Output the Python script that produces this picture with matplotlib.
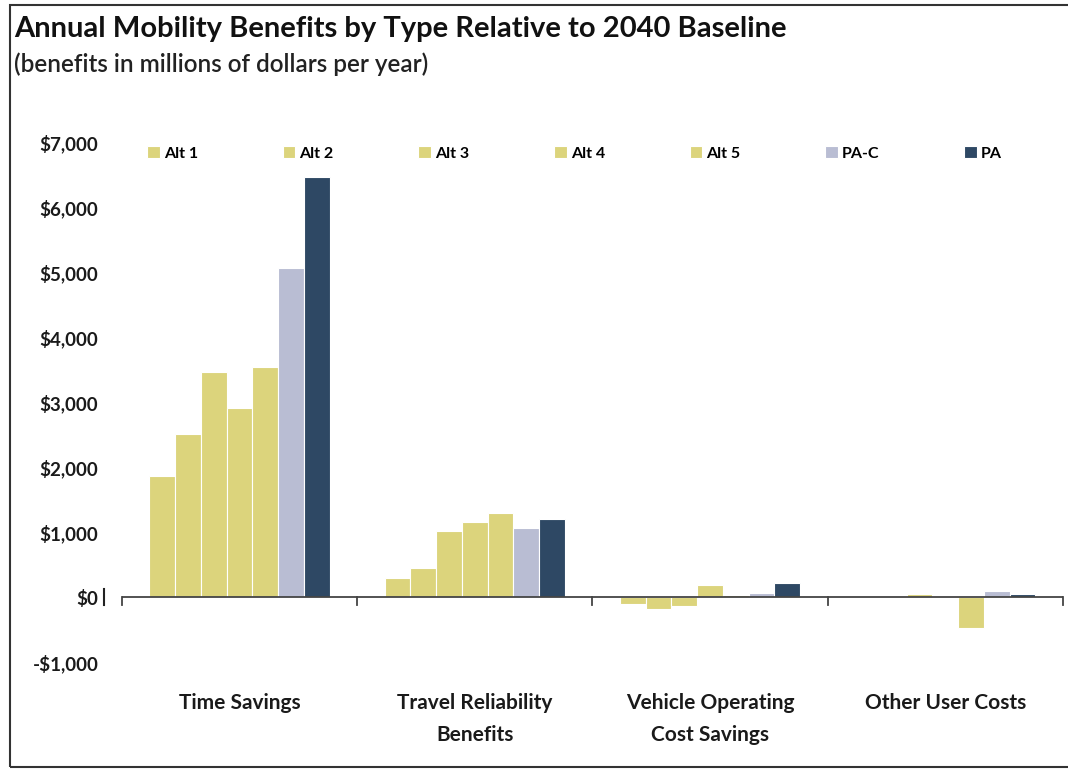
import numpy as np
import matplotlib.pyplot as plt

categories = ['Time Savings', 'Travel Reliability\nBenefits',
              'Vehicle Operating\nCost Savings', 'Other User Costs']
series = ['Alt 1', 'Alt 2', 'Alt 3', 'Alt 4', 'Alt 5', 'PA-C', 'PA']
alt1 = [1860, 300, -100, 10]
alt2 = [2510, 450, -180, 20]
alt3 = [3460, 1020, -130, 50]
alt4 = [2910, 1150, 180, 0]
alt5 = [3540, 1300, 30, -480]
pa_c = [5060, 1070, 60, 100]
pa = [6460, 1210, 220, 50]
values = [alt1, alt2, alt3, alt4, alt5, pa_c, pa]
colors = ['#DCD47C', '#DCD47C', '#DCD47C', '#DCD47C', '#DCD47C', '#B9BDD3', '#2E4864']
yticks = np.arange(-1000, 7001, 1000)

plt.rcParams['font.family'] = ['Lato', 'DejaVu Sans']

fig = plt.figure(figsize=(10.68, 7.69), dpi=100)
ax = fig.add_axes([0.1142, 0.139, 0.881, 0.676])

x = np.arange(len(categories))
w = 0.766 / len(series)
for i, (name, vals) in enumerate(zip(series, values)):
    ax.bar(x - 0.383 + w * (i + 0.5), vals, w, color=colors[i],
           edgecolor='white', linewidth=0.8, label=name, zorder=2)

ax.set_xlim(-0.5, len(categories) - 0.5)
ax.set_ylim(-1000, 7000)
ax.set_yticks(yticks)
ax.set_yticklabels(['-$1,000' if v < 0 else f'${v:,}' for v in yticks],
                   fontsize=13.5, fontweight='bold', color='#1a1a1a')
ax.tick_params(axis='y', length=0, pad=17)
for s in ax.spines.values():
    s.set_visible(False)
ax.set_xticks([])

# zero line with category dividers
ax.axhline(0, color='#444444', lw=1.3, zorder=3)
for b in np.arange(len(categories) + 1) - 0.5:
    ax.plot([b, b], [0, -120], color='#444444', lw=1.3, clip_on=False, zorder=3)
ax.plot([-0.575, -0.575], [-120, 120], color='#222222', lw=1.5, clip_on=False)
for xi, lab in zip(x, categories):
    ax.text(xi, -1470, lab, ha='center', va='top', fontsize=15,
            fontweight='bold', color='#1a1a1a', linespacing=1.75)

ax.legend(loc='upper left', bbox_to_anchor=(0.02, 1.005), ncol=7, frameon=False,
          handlelength=0.8, handleheight=0.8, handletextpad=0.25,
          columnspacing=5.3, borderaxespad=0,
          prop={'weight': 'bold', 'size': 11.5})

fig.text(0.013, 0.962, 'Annual Mobility Benefits by Type Relative to 2040 Baseline',
         fontsize=21, fontweight='bold', color='#111111', va='center')
fig.text(0.013, 0.917, '(benefits in millions of dollars per year)',
         fontsize=17.5, fontweight='semibold', color='#222222', va='center')

# outer frame
fig.patches.append(plt.Rectangle((0.009, 0.003), 1.2, 0.99, transform=fig.transFigure,
                                 fill=False, edgecolor='#333333', lw=1.5))

fig.savefig('out.png', dpi=100)
